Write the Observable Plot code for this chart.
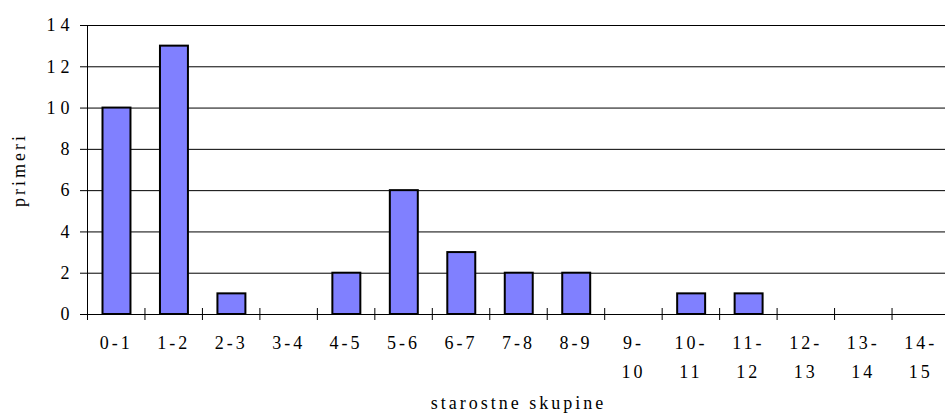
<!DOCTYPE html>
<html>
<head>
<meta charset="utf-8">
<script src="https://cdn.jsdelivr.net/npm/d3@7"></script>
<script src="https://cdn.jsdelivr.net/npm/@observablehq/plot@0.6"></script>
<style>
  html, body { margin: 0; padding: 0; background: white; }
  svg, svg text { font-family: "Liberation Serif", "Times New Roman", serif !important; letter-spacing: 3px; }
  g[aria-label="y-axis tick label"] text { letter-spacing: 5px; }
  g[aria-label="x-title"] text, g[aria-label="y-title"] text { letter-spacing: 4.5px; }
</style>
</head>
<body>
<div id="chart"></div>
<script>
const categories = ["0-1","1-2","2-3","3-4","4-5","5-6","6-7","7-8","8-9","9-10","10-11","11-12","12-13","13-14","14-15"];
const counts = [10, 13, 1, 0, 2, 6, 3, 2, 2, 0, 1, 1, 0, 0, 0];
const tickLabels = ["0-1","1-2","2-3","3-4","4-5","5-6","6-7","7-8","8-9","9-\n10","10-\n11","11-\n12","12-\n13","13-\n14","14-\n15"];
const yTicks = [0, 2, 4, 6, 8, 10, 12, 14];
const xTitle = "starostne skupine";
const yTitle = "primeri";
const barColor = "#8080FF";

const rows = categories.map((c, i) => {
  const [a, b] = c.split("-").map(Number);
  return {start: a, end: b, mid: (a + b) / 2, count: counts[i], label: tickLabels[i]};
});
const bounds = [...new Set(rows.flatMap(d => [d.start, d.end]))];
const serif = "Liberation Serif";

const chart = Plot.plot({
  width: 945,
  height: 416,
  marginLeft: 87,
  marginRight: -4,
  marginTop: 25,
  marginBottom: 102,
  style: {fontFamily: serif, fontSize: "18px", color: "black", background: "white"},
  x: {domain: [bounds[0], bounds[bounds.length - 1]], axis: null, label: null},
  y: {domain: [yTicks[0], yTicks[yTicks.length - 1]], axis: null, label: null},
  marks: [
    Plot.ruleY(yTicks, {y: d => d, stroke: "black", strokeWidth: 1}),
    Plot.axisY(yTicks, {tickSize: 7, tickPadding: 6, stroke: "black", fill: "black", fontSize: 18, fontFamily: serif, label: null}),
    Plot.ruleX([bounds[0]], {x: d => d, stroke: "black", strokeWidth: 1}),
    Plot.ruleX(bounds, {x: d => d, y1: 0, y2: 0, insetTop: 6, insetBottom: 6, stroke: "black", strokeWidth: 1}),
    Plot.rect(rows.filter(d => d.count > 0), {
      x1: "start", x2: "end", y1: 0, y2: "count",
      insetLeft: 15.5, insetRight: 14,
      fill: barColor, stroke: "black", strokeWidth: 2
    }),
    Plot.text(rows, {
      x: "mid", text: "label", frameAnchor: "bottom",
      lineAnchor: "top", lineHeight: 1.62, dy: 14, fontSize: 18, fontFamily: serif, fill: "black"
    }),
    Plot.text([xTitle], {text: d => d, frameAnchor: "bottom", dy: 94, fontSize: 18, fontFamily: serif, fill: "black", ariaLabel: "x-title"}),
    Plot.text([yTitle], {text: d => d, frameAnchor: "left", textAnchor: "middle", lineAnchor: "middle", rotate: -90, dx: -68, fontSize: 18, fontFamily: serif, fill: "black", ariaLabel: "y-title"})
  ]
});
document.getElementById("chart").appendChild(chart);
</script>
</body>
</html>
